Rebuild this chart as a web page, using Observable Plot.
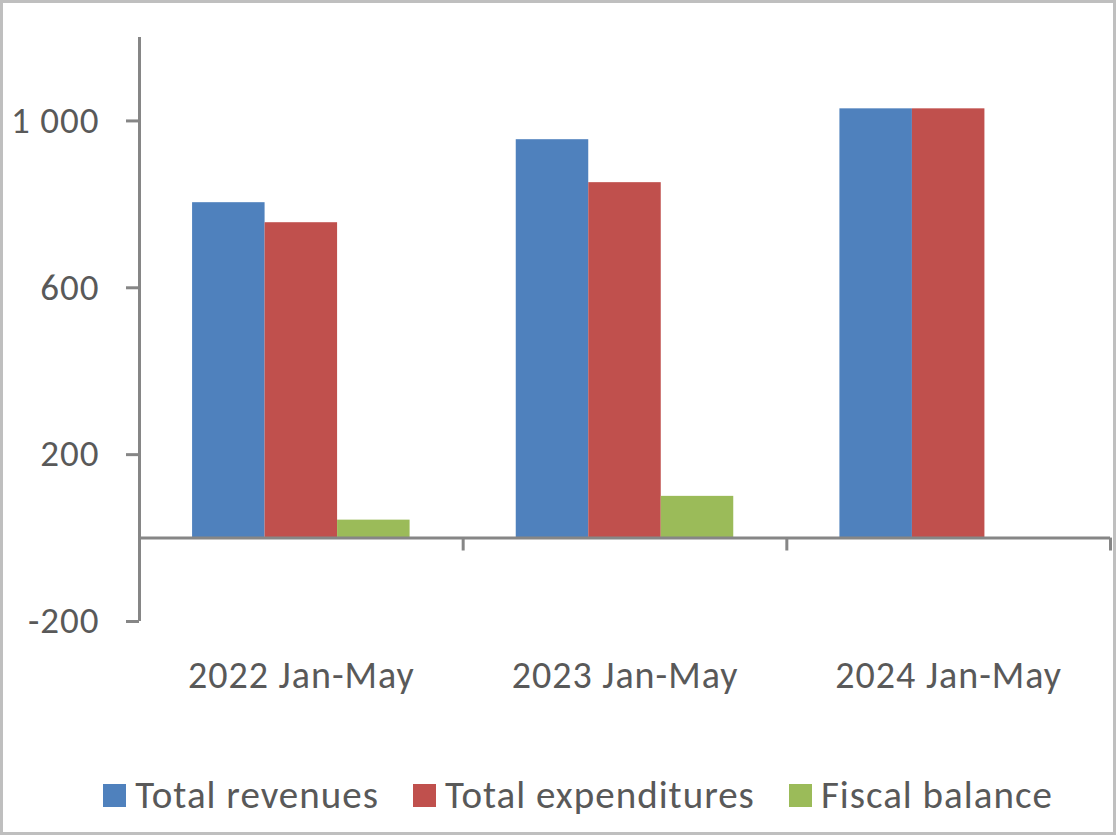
<!DOCTYPE html>
<html>
<head>
<meta charset="utf-8">
<script src="https://cdn.jsdelivr.net/npm/d3@7"></script>
<script src="https://cdn.jsdelivr.net/npm/@observablehq/plot@0.6"></script>
<style>
  html, body { margin: 0; padding: 0; background: #fff; }
  #page { position: relative; width: 1116px; height: 835px; overflow: hidden; font-family: Carlito, Calibri, Lato, sans-serif; color: #595959; }
  #page svg { position: absolute; left: 0; top: 0; }
  #frame { position: absolute; inset: 0; border: 3px solid #BFBFBF; pointer-events: none; }
  #legend { position: absolute; left: 20px; top: 773px; width: 1116px; display: flex; justify-content: center; gap: 34px; font-size: 39px; line-height: 44px; letter-spacing: 1px; }
  .item { display: flex; align-items: center; gap: 9px; }
  .sw { width: 23px; height: 23px; display: inline-block; }
</style>
</head>
<body>
<div id="page"><div id="chart"></div><div id="legend"></div><div id="frame"></div></div>
<script>
const periods = ["2022 Jan-May", "2023 Jan-May", "2024 Jan-May"];
const seriesNames = ["Total revenues", "Total expenditures", "Fiscal balance"];
const revenues = [804, 955, 1029];
const expenditures = [756, 852, 1029];
const balance = [43, 100, -2];
const colors = ["#4F81BD", "#C0504D", "#9BBB59"];
const yTicks = [-200, 200, 600, 1000];

const seriesValues = [revenues, expenditures, balance];
const data = [];
periods.forEach((p, i) => seriesNames.forEach((s, k) => data.push({period: p, i, series: s, k, value: seriesValues[k][i]})));

const pad = 0.164, bw = 0.224;
const fmt = d3.formatLocale({decimal: ".", thousands: " ", grouping: [3], currency: ["", ""], minus: "-"}).format(",");
const axisColor = "#868686";

const chart = Plot.plot({
  width: 1116,
  height: 720,
  marginLeft: 139,
  marginRight: 6,
  marginTop: 37,
  marginBottom: 99,
  style: {fontFamily: "Carlito, Calibri, Lato, sans-serif", fontSize: "38px", letterSpacing: "1px", color: "#595959", background: "transparent"},
  x: {domain: [0, 3], axis: null},
  y: {domain: [-200, 1200], axis: null},
  color: {domain: seriesNames, range: colors},
  marks: [
    Plot.rectY(data, {x1: d => d.i + pad + d.k * bw, x2: d => d.i + pad + (d.k + 1) * bw, y: "value", fill: "series"}),
    Plot.ruleX([0], {y1: -200, y2: 1200, stroke: axisColor, strokeWidth: 3}),
    Plot.ruleY([0], {x1: 0, x2: 3, stroke: axisColor, strokeWidth: 3}),
    Plot.ruleX([1, 2, 3], {y1: 0, y2: -31, stroke: axisColor, strokeWidth: 3}),
    Plot.axisY({ticks: yTicks, label: null, tickSize: 13, tickPadding: 27, tickFormat: fmt, stroke: axisColor, strokeWidth: 3, fill: "#595959", fontSize: 37}),
    Plot.axisX({ticks: [0.5, 1.5, 2.5], label: null, tickSize: 0, tickPadding: 40, tickFormat: t => periods[Math.floor(t)], fill: "#595959"})
  ]
});
document.getElementById("chart").appendChild(chart);

const legend = document.getElementById("legend");
seriesNames.forEach((s, k) => {
  const it = document.createElement("div");
  it.className = "item";
  it.innerHTML = `<span class="sw" style="background:${colors[k]}"></span><span>${s}</span>`;
  legend.appendChild(it);
});
</script>
</body>
</html>
